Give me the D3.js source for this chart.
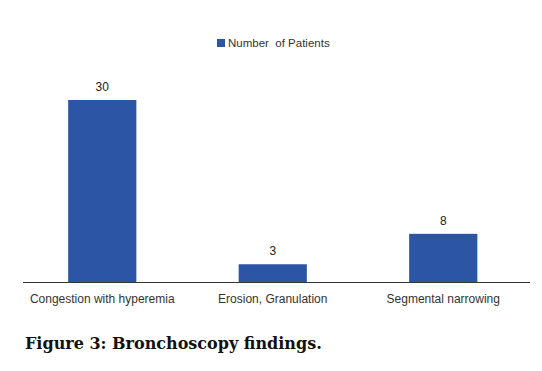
<!DOCTYPE html>
<html>
<head>
<meta charset="utf-8">
<script src="https://cdn.jsdelivr.net/npm/d3@7"></script>
<style>
  body { margin: 0; background: #fff; }
</style>
</head>
<body>
<div id="chart"></div>
<script>
// data
var categories = ["Congestion with hyperemia", "Erosion, Granulation", "Segmental narrowing"];
var patients = [30, 3, 8];
var seriesName = "Number  of Patients";
var caption = "Figure 3: Bronchoscopy findings.";

var W = 542, H = 371;
var baseY = 282.5;
var barColor = "#2d55a5";

var svg = d3.select("#chart")
  .append("svg")
    .attr("width", W)
    .attr("height", H);

// x scale
var x = d3.scaleBand()
  .domain(categories)
  .range([17, 528.5])
  .paddingInner(0.6)
  .paddingOuter(0.3);

// y scale
var y = d3.scaleLinear()
  .domain([0, 30])
  .range([baseY, 100]);

// bars
svg.selectAll("rect.bar")
  .data(patients)
  .enter()
  .append("rect")
    .attr("class", "bar")
    .attr("x", function(d, i) { return x(categories[i]); })
    .attr("y", function(d) { return y(d); })
    .attr("width", x.bandwidth())
    .attr("height", function(d) { return baseY - y(d); })
    .attr("fill", barColor);

// value labels
svg.selectAll("text.val")
  .data(patients)
  .enter()
  .append("text")
    .attr("class", "val")
    .attr("x", function(d, i) { return x(categories[i]) + x.bandwidth() / 2; })
    .attr("y", function(d) { return y(d) - 9; })
    .attr("text-anchor", "middle")
    .style("font-family", "Liberation Sans, Arial, sans-serif")
    .style("font-size", "12px")
    .style("fill", "#222")
    .text(function(d) { return d; });

// x axis (line only, no ticks)
var xAxis = svg.append("g")
  .attr("transform", "translate(0," + baseY + ")")
  .call(d3.axisBottom(x).tickSize(0).tickPadding(12));
xAxis.select(".domain")
  .attr("d", "M23,0H530")
  .attr("stroke", "#333")
  .attr("stroke-width", 1.2);
xAxis.selectAll("text")
  .style("font-family", "Liberation Sans, Arial, sans-serif")
  .style("font-size", "12px")
  .style("fill", "#333");

// legend
svg.append("rect")
  .attr("x", 217)
  .attr("y", 39)
  .attr("width", 8)
  .attr("height", 8)
  .attr("fill", barColor);
svg.append("text")
  .attr("x", 228)
  .attr("y", 47)
  .style("font-family", "Liberation Sans, Arial, sans-serif")
  .style("font-size", "11.5px")
  .style("fill", "#333")
  .style("white-space", "pre")
  .attr("xml:space", "preserve")
  .text(seriesName);

// caption
svg.append("text")
  .attr("x", 25)
  .attr("y", 349)
  .style("font-family", "DejaVu Serif, Liberation Serif, serif")
  .style("font-weight", "bold")
  .style("font-size", "16px")
  .style("fill", "#111")
  .text(caption);
</script>
</body>
</html>
